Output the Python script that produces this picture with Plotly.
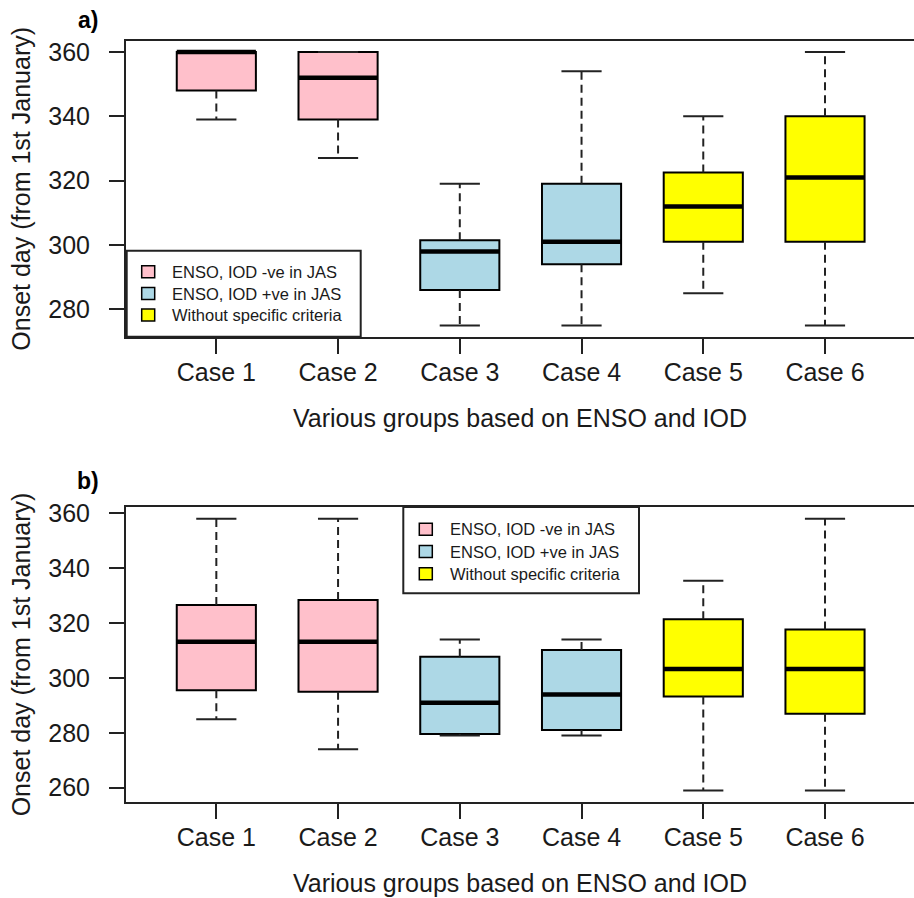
import plotly.graph_objects as go

# ---------------- data ----------------
cases = ["Case 1", "Case 2", "Case 3", "Case 4", "Case 5", "Case 6"]
case_pos = [1, 2, 3, 4, 5, 6]
case_group = [0, 0, 1, 1, 2, 2]
group_colors = ["#FFC0CB", "#ADD8E6", "#FFFF00"]
legend_labels = ["ENSO, IOD -ve in JAS", "ENSO, IOD +ve in JAS", "Without specific criteria"]

# panel a
a_lower = [339, 327, 275, 275, 285, 275]
a_q1 = [348, 339, 286, 294, 301, 301]
a_med = [360, 352, 298, 301, 312, 321]
a_q3 = [360, 360, 301.5, 319, 322.5, 340]
a_upper = [360, 360, 319, 354, 340, 360]
a_yticks = [280, 300, 320, 340, 360]

# panel b
b_lower = [285, 274, 279, 279, 259, 259]
b_q1 = [295.5, 295, 279.6, 281, 293.2, 287]
b_med = [313.2, 313.2, 291, 294, 303.3, 303.3]
b_q3 = [326.6, 328.4, 307.7, 310.2, 321.4, 317.7]
b_upper = [358, 358, 314, 314, 335.4, 358]
b_yticks = [260, 280, 300, 320, 340, 360]

y_title = "Onset day (from 1st January)"
x_title = "Various groups based on ENSO and IOD"
panel_labels = ["a)", "b)"]

# ---------------- layout helpers ----------------
W, H = 914, 898
L, R, T, B = 126, 0, 41, 96
PW = W - L - R
PH = H - T - B
FONT = "Liberation Sans, Arial, sans-serif"
TXT = "#1a1a1a"
FRAME = "#222222"


def px(x):
    return (x - L) / PW


def py(y):
    return (H - B - y) / PH


BOXW = 0.65
CAPW = 0.33

fig = go.Figure()

panels = [
    dict(lo=a_lower, q1=a_q1, med=a_med, q3=a_q3, hi=a_upper, xa="x", ya="y"),
    dict(lo=b_lower, q1=b_q1, med=b_med, q3=b_q3, hi=b_upper, xa="x2", ya="y2"),
]

for p in panels:
    colors = [group_colors[g] for g in case_group]
    fig.add_trace(go.Bar(
        x=case_pos, base=p["q1"], y=[q3 - q1 for q1, q3 in zip(p["q1"], p["q3"])],
        width=BOXW, marker=dict(color=colors, line=dict(color="black", width=2)),
        xaxis=p["xa"], yaxis=p["ya"], showlegend=False, hoverinfo="skip"))
    # whiskers (dashed)
    wx, wy = [], []
    for x, lo, q1, q3, hi in zip(case_pos, p["lo"], p["q1"], p["q3"], p["hi"]):
        wx += [x, x, None, x, x, None]
        wy += [q1, lo, None, q3, hi, None]
    fig.add_trace(go.Scatter(x=wx, y=wy, mode="lines",
                             line=dict(color="#222222", width=2, dash="8px,5px"),
                             xaxis=p["xa"], yaxis=p["ya"], showlegend=False, hoverinfo="skip"))
    # staples
    cx, cy = [], []
    for x, lo, hi in zip(case_pos, p["lo"], p["hi"]):
        cx += [x - CAPW / 2, x + CAPW / 2, None, x - CAPW / 2, x + CAPW / 2, None]
        cy += [lo, lo, None, hi, hi, None]
    fig.add_trace(go.Scatter(x=cx, y=cy, mode="lines",
                             line=dict(color="#222222", width=2),
                             xaxis=p["xa"], yaxis=p["ya"], showlegend=False, hoverinfo="skip"))
    # medians
    mx, my = [], []
    for x, m in zip(case_pos, p["med"]):
        mx += [x - BOXW / 2, x + BOXW / 2, None]
        my += [m, m, None]
    fig.add_trace(go.Scatter(x=mx, y=my, mode="lines",
                             line=dict(color="black", width=4.5),
                             xaxis=p["xa"], yaxis=p["ya"], showlegend=False, hoverinfo="skip"))

xr = [0.258, 6.731]
common_x = dict(range=xr, tickmode="array", tickvals=case_pos, ticktext=cases,
                showline=True, mirror=True, linecolor=FRAME, linewidth=2,
                ticks="outside", ticklen=15, tickwidth=2, tickcolor=FRAME,
                showgrid=False, zeroline=False, ticklabelstandoff=-3,
                tickfont=dict(family=FONT, size=25, color=TXT))
common_y = dict(showline=True, mirror=False, linecolor=FRAME, linewidth=2,
                ticks="outside", ticklen=15, tickwidth=2, tickcolor=FRAME,
                showgrid=False, zeroline=False, ticklabelstandoff=14,
                tickmode="array",
                tickfont=dict(family=FONT, size=25, color=TXT))

dom_a = [py(336.7), 1.0]
dom_b = [0.0, py(507)]

fig.update_layout(
    width=W, height=H,
    margin=dict(l=L, r=R, t=T, b=B),
    paper_bgcolor="white", plot_bgcolor="white",
    showlegend=False,
    xaxis=dict(anchor="y", domain=[0, 1], **common_x),
    yaxis=dict(anchor="x", domain=dom_a, range=[271.5, 363.4], tickvals=a_yticks, **common_y),
    xaxis2=dict(anchor="y2", domain=[0, 1], **common_x),
    yaxis2=dict(anchor="x2", domain=dom_b, range=[254.8, 362.3], tickvals=b_yticks, **common_y),
)

shapes = []
annotations = []

# axis titles and panel labels
for top, bot, lab, ly in [(41.3, 336.7, panel_labels[0], 20), (507, 802.3, panel_labels[1], 481)]:
    annotations.append(dict(x=px(20.7), y=py((top + bot) / 2), xref="paper", yref="paper",
                            text=y_title, textangle=-90, showarrow=False,
                            xanchor="center", yanchor="middle",
                            font=dict(family=FONT, size=25, color=TXT)))
    annotations.append(dict(x=0.5, y=py(bot + 81), xref="paper", yref="paper",
                            text=x_title, showarrow=False,
                            xanchor="center", yanchor="middle",
                            font=dict(family=FONT, size=25, color=TXT)))
    annotations.append(dict(x=px(87.5), y=py(ly), xref="paper", yref="paper",
                            text="<b>" + lab + "</b>", showarrow=False,
                            xanchor="center", yanchor="middle",
                            font=dict(family=FONT, size=23, color="black")))

# legends (drawn as boxes with swatches)
legend_specs = [
    dict(box=(126.7, 250.7, 360.7, 336.7), sw_x=141.7, txt_x=170, rows=[271.7, 293.5, 315]),
    dict(box=(403.3, 507, 639, 593.3), sw_x=419.3, txt_x=448.3, rows=[529.2, 551.5, 573.7]),
]
for spec in legend_specs:
    x0, y0, x1, y1 = spec["box"]
    shapes.append(dict(type="rect", xref="paper", yref="paper",
                       x0=px(x0), x1=px(x1), y0=py(y1), y1=py(y0),
                       line=dict(color=FRAME, width=2), fillcolor="white", layer="above"))
    for lab, col, ry in zip(legend_labels, group_colors, spec["rows"]):
        shapes.append(dict(type="rect", xref="paper", yref="paper",
                           x0=px(spec["sw_x"]), x1=px(spec["sw_x"] + 13),
                           y0=py(ry + 6), y1=py(ry - 6),
                           line=dict(color="black", width=1.5), fillcolor=col, layer="above"))
        annotations.append(dict(x=px(spec["txt_x"]), y=py(ry), xref="paper", yref="paper",
                                text=lab, showarrow=False, xanchor="left", yanchor="middle",
                                font=dict(family=FONT, size=16.5, color=TXT)))

fig.update_layout(shapes=shapes, annotations=annotations)
fig.write_html("out.html")
